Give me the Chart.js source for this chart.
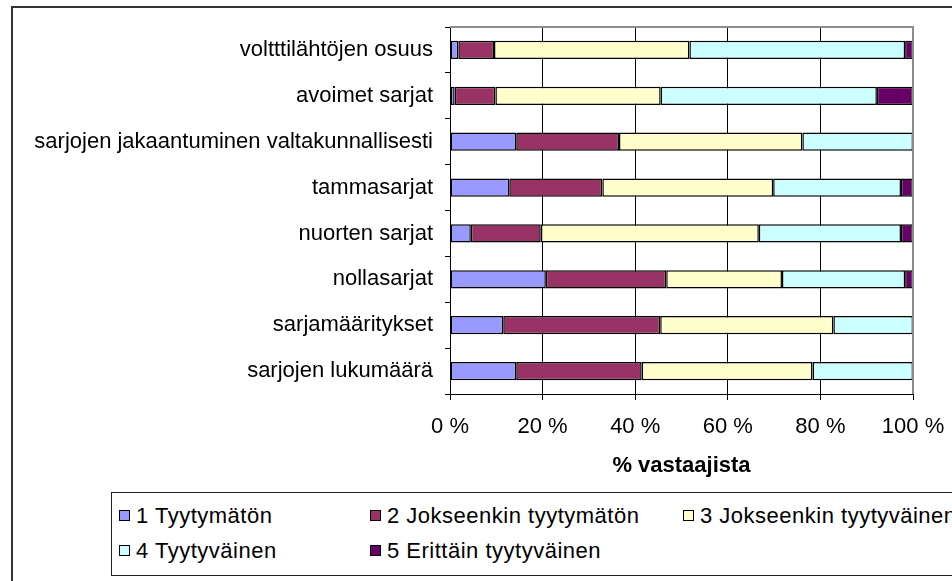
<!DOCTYPE html>
<html>
<head>
<meta charset="utf-8">
<script src="https://cdn.jsdelivr.net/npm/chart.js@4.4.1/dist/chart.umd.min.js"></script>
<style>
    html, body { margin: 0; padding: 0; background: #fff; }
    body { width: 952px; height: 581px; position: relative; overflow: hidden; font-family: "Liberation Sans", Arial, sans-serif; }
    #frame { position: absolute; left: 11px; top: 6px; width: 1000px; height: 1000px; border: 2px solid #333; box-sizing: border-box; }
    #chart { position: absolute; left: 0; top: 0; }
    #legend { position: absolute; left: 111px; top: 492px; width: 900px; height: 84px; border: 1px solid #222; box-sizing: border-box; background: #fff; }
    .item { position: absolute; font-size: 22px; letter-spacing: 0.5px; color: #000; white-space: nowrap; line-height: 26px; }
    .item span.box { display: inline-block; width: 9px; height: 9px; border: 1.5px solid #000; margin-right: 6px; vertical-align: 2px; }
</style>
</head>
<body>
<div id="frame"></div>
<canvas id="chart" width="952" height="581"></canvas>
<div id="legend"></div>
<script>
    const categories = [
        'voltttilähtöjen osuus',
        'avoimet sarjat',
        'sarjojen jakaantuminen valtakunnallisesti',
        'tammasarjat',
        'nuorten sarjat',
        'nollasarjat',
        'sarjamääritykset',
        'sarjojen lukumäärä'
    ];
    const seriesNames = [
        '1 Tyytymätön',
        '2 Jokseenkin tyytymätön',
        '3 Jokseenkin tyytyväinen',
        '4 Tyytyväinen',
        '5 Erittäin tyytyväinen'
    ];
    const tyytymaton = [1.8, 1.0, 14.3, 12.8, 4.5, 20.7, 11.5, 14.3];
    const jokseenkinTyytymaton = [7.7, 8.8, 22.2, 20.1, 15.1, 26.0, 33.9, 27.1];
    const jokseenkinTyytyvainen = [42.2, 35.7, 39.6, 36.9, 47.1, 25.0, 37.4, 36.9];
    const tyytyvainen = [46.6, 46.7, 23.9, 27.6, 30.7, 26.6, 17.2, 21.7];
    const erittainTyytyvainen = [1.7, 7.8, 0, 2.6, 2.6, 1.7, 0, 0];
    const xTicks = [0, 20, 40, 60, 80, 100];

    const colors = ['#9999FF', '#993366', '#FFFFCC', '#CCFFFF', '#660066'];
    const allValues = [tyytymaton, jokseenkinTyytymaton, jokseenkinTyytyvainen, tyytyvainen, erittainTyytyvainen];

    const plotBorder = {
        id: 'plotBorder',
        afterDatasetsDraw(chart) {
            const {ctx, chartArea} = chart;
            ctx.save();
            ctx.strokeStyle = '#8c8c8c';
            ctx.lineWidth = 2;
            ctx.beginPath();
            ctx.moveTo(chartArea.left, chartArea.top);
            ctx.lineTo(chartArea.right, chartArea.top);
            ctx.lineTo(chartArea.right, chartArea.bottom);
            ctx.stroke();
            ctx.restore();
        }
    };

    const chart = new Chart(document.getElementById('chart'), {
        type: 'bar',
        data: {
            labels: categories,
            datasets: allValues.map((values, i) => ({
                label: seriesNames[i],
                data: values,
                backgroundColor: colors[i],
                borderColor: '#000',
                borderWidth: 1.5,
                borderSkipped: false,
                barPercentage: 0.4,
                categoryPercentage: 1
            }))
        },
        options: {
            indexAxis: 'y',
            responsive: false,
            animation: false,
            layout: {
                padding: {top: 27, right: 39, left: 0, bottom: 581 - 394 - 90}
            },
            plugins: {
                legend: {display: false},
                tooltip: {enabled: false}
            },
            scales: {
                x: {
                    stacked: true,
                    min: 0,
                    max: 100,
                    afterBuildTicks: (scale) => {
                        scale.ticks = xTicks.map(v => ({value: v}));
                    },
                    afterFit: (scale) => {
                        scale.height = 90;
                        scale.paddingLeft = 0;
                        scale.paddingRight = 0;
                    },
                    ticks: {
                        color: '#000',
                        padding: 14,
                        font: {family: 'Liberation Sans', size: 22},
                        callback: (v) => v + ' %'
                    },
                    grid: {
                        color: (ctx) => ctx.tick && ctx.tick.value === 100 ? 'rgba(0,0,0,0)' : '#000',
                        tickColor: '#000',
                        lineWidth: 1,
                        tickLength: 6
                    },
                    border: {color: '#000', width: 1},
                    title: {
                        display: true,
                        text: '% vastaajista',
                        color: '#000',
                        padding: {top: 4, bottom: 5},
                        font: {family: 'Liberation Sans', size: 22, weight: 'bold'}
                    }
                },
                y: {
                    stacked: true,
                    afterFit: (scale) => {
                        scale.width = 450;
                        scale.paddingTop = 0;
                        scale.paddingBottom = 0;
                    },
                    ticks: {
                        color: '#000',
                        padding: 12,
                        font: {family: 'Liberation Sans', size: 22}
                    },
                    grid: {
                        drawOnChartArea: false,
                        color: '#000',
                        tickLength: 5
                    },
                    border: {color: '#000', width: 1}
                }
            }
        },
        plugins: [plotBorder]
    });

    // legend in the bottom box, three columns
    const legendElement = document.getElementById('legend');
    const columnX = [7, 258, 571];
    chart.data.datasets.forEach((dataset, i) => {
        const item = document.createElement('div');
        item.className = 'item';
        item.style.left = columnX[i % 3] + 'px';
        item.style.top = (i < 3 ? 10 : 45) + 'px';
        item.innerHTML = '<span class="box" style="background:' + dataset.backgroundColor + '"></span>' + dataset.label;
        legendElement.appendChild(item);
    });
</script>
</body>
</html>
